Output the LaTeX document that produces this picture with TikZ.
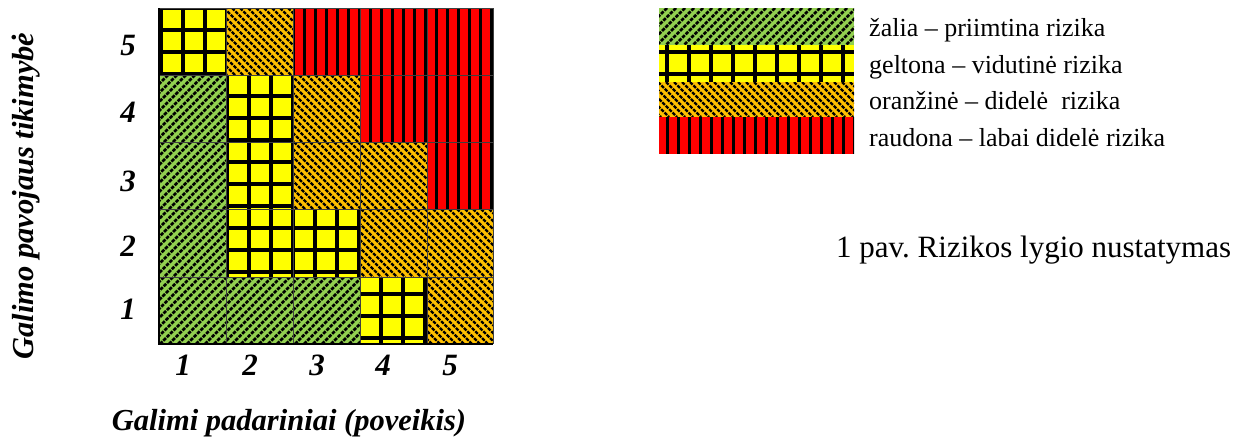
\documentclass[tikz,border=0pt]{standalone}
\usepackage{fontspec}
\setmainfont{Liberation Serif}
\frenchspacing
\definecolor{rgreen}{HTML}{92D050}
\definecolor{ryellow}{HTML}{FFFF00}
\definecolor{rorange}{HTML}{FFC000}
\definecolor{rred}{HTML}{FF0000}
\tikzset{
  greenhatch/.style={black, line width=2.5pt, dash pattern=on 3.6pt off 1.2pt},
  orangehatch/.style={black, line width=2.3pt, dash pattern=on 3.6pt off 1.2pt},
  redstripe/.style={black, line width=3pt},
  yellowgrid/.style={black, line width=3.4pt},
  cellborder/.style={black!75, line width=1pt},
  axisnum/.style={font=\fontsize{31}{31}\selectfont\bfseries\itshape, anchor=base},
  axislabel/.style={font=\fontsize{30.5}{30.5}\selectfont\bfseries\itshape},
  legendtext/.style={font=\fontsize{26}{26}\selectfont, anchor=base west, inner sep=0pt},
}
\newcommand\GreenCell[4]{%
  \fill[rgreen] (#1,#2) rectangle (#3,#4);
  \begin{scope}
    \clip (#1,#2) rectangle (#3,#4);
    \pgfmathtruncatemacro\hcs{floor((#1+#2)/9)-1}
    \pgfmathtruncatemacro\hce{ceil((#3+#4)/9)+1}
    \foreach \k in {\hcs,...,\hce}{\draw[greenhatch] (9*\k-#2,#2) -- (9*\k-#4,#4);}
  \end{scope}}
\newcommand\OrangeCell[4]{%
  \fill[rorange] (#1,#2) rectangle (#3,#4);
  \begin{scope}
    \clip (#1,#2) rectangle (#3,#4);
    \pgfmathtruncatemacro\hcs{floor((#1-#4)/8)-1}
    \pgfmathtruncatemacro\hce{ceil((#3-#2)/8)+1}
    \foreach \k in {\hcs,...,\hce}{\draw[orangehatch] (8*\k+#2,#2) -- (8*\k+#4,#4);}
  \end{scope}}
\newcommand\RedCell[4]{%
  \fill[rred] (#1,#2) rectangle (#3,#4);
  \begin{scope}
    \clip (#1,#2) rectangle (#3,#4);
    \pgfmathtruncatemacro\hcs{floor((#1-161)/11)-1}
    \pgfmathtruncatemacro\hce{ceil((#3-161)/11)+1}
    \foreach \k in {\hcs,...,\hce}{\draw[redstripe] (161+11*\k,#2) -- (161+11*\k,#4);}
  \end{scope}}
\newcommand\YellowCell[4]{%
  \fill[ryellow] (#1,#2) rectangle (#3,#4);
  \begin{scope}
    \clip (#1,#2) rectangle (#3,#4);
    \pgfmathtruncatemacro\hcs{floor((#1-161)/22)-1}
    \pgfmathtruncatemacro\hce{ceil((#3-161)/22)+1}
    \foreach \k in {\hcs,...,\hce}{\draw[yellowgrid] (161+22*\k,#2) -- (161+22*\k,#4);}
    \pgfmathtruncatemacro\hcs{floor((#2-8)/22)-1}
    \pgfmathtruncatemacro\hce{ceil((#4-8)/22)+1}
    \foreach \k in {\hcs,...,\hce}{\draw[yellowgrid] (#1,8+22*\k) -- (#3,8+22*\k);}
  \end{scope}}
\begin{document}
\begin{tikzpicture}[x=1pt,y=-1pt]
\useasboundingbox (0,0) rectangle (1248,445);
% row 5 (top)
\YellowCell{159}{8}{226}{75}
\OrangeCell{226}{8}{293}{75}
\RedCell{293}{8}{493}{75}
% row 4
\GreenCell{159}{75}{226}{142}
\YellowCell{226}{75}{293}{142}
\OrangeCell{293}{75}{360}{142}
\RedCell{360}{75}{493}{142}
% row 3
\GreenCell{159}{142}{226}{209}
\YellowCell{226}{142}{293}{209}
\OrangeCell{293}{142}{427}{209}
\RedCell{427}{142}{493}{209}
% row 2
\GreenCell{159}{209}{226}{277}
\YellowCell{226}{209}{360}{277}
\OrangeCell{360}{209}{493}{277}
% row 1
\GreenCell{159}{277}{360}{344}
\YellowCell{360}{277}{427}{344}
\OrangeCell{427}{277}{493}{344}
% cell borders
\foreach \xx in {226,293,360,427,493} \draw[cellborder] (\xx,8) -- (\xx,344);
\foreach \yy in {8,75,142,209,277} \draw[cellborder] (159,\yy) -- (493,\yy);
\draw[black, line width=1.5pt] (159,8) -- (159,344) -- (493,344);
% axis numbers
\node[axisnum] (r5) at (128,55) {5};
\node[axisnum] (r4) at (128,122) {4};
\node[axisnum] (r3) at (128,191) {3};
\node[axisnum] (r2) at (128,256) {2};
\node[axisnum] (r1) at (128,319) {1};
\node[axisnum] (c1) at (183,375) {1};
\node[axisnum] (c2) at (250,375) {2};
\node[axisnum] (c3) at (317,375) {3};
\node[axisnum] (c4) at (383,375) {4};
\node[axisnum] (c5) at (450,375) {5};
% axis labels
\node[axislabel, rotate=90, anchor=base] (ylab) at (33,196) {Galimo pavojaus tikimybė};
\node[axislabel, anchor=base] (xlab) at (289,430) {Galimi padariniai (poveikis)};
% legend
\GreenCell{659}{8}{854}{45}
\YellowCell{659}{45}{854}{82}
\OrangeCell{659}{82}{854}{117}
\RedCell{659}{117}{854}{154}
\node[legendtext] (l1) at (869,36) {žalia – priimtina rizika};
\node[legendtext] (l2) at (869,73) {geltona – vidutinė rizika};
\node[legendtext] (l3) at (869,109) {oranžinė – didelė\ \ rizika};
\node[legendtext] (l4) at (869,146) {raudona – labai didelė rizika};
\node[font=\fontsize{31}{31}\selectfont, anchor=base west, inner sep=0pt] (cap) at (836,257) {1 pav. Rizikos lygio nustatymas};
\end{tikzpicture}
\end{document}
